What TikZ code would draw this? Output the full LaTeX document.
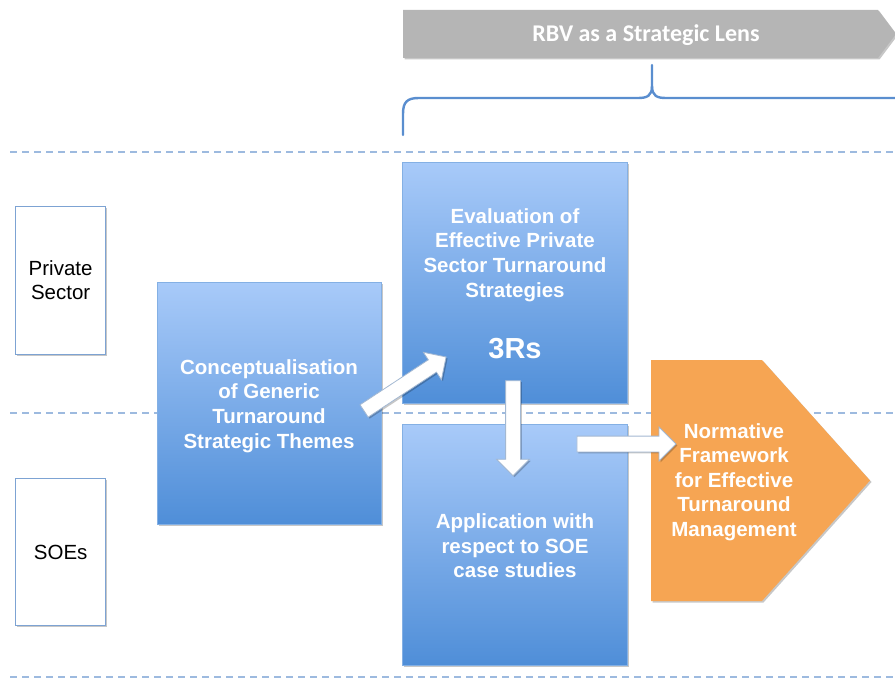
\documentclass[tikz,border=0pt]{standalone}
\usepackage{fontspec}
\setmainfont{Liberation Sans}
\newfontfamily\bannerfont{Carlito}
\usetikzlibrary{shadows,shapes.arrows,calc}

\definecolor{boxtop}{HTML}{A8CAF9}
\definecolor{boxbot}{HTML}{4F8ED8}
\definecolor{laneline}{HTML}{9DBADF}
\definecolor{bracecol}{HTML}{5A8ECF}
\definecolor{bannergray}{HTML}{B5B5B5}
\definecolor{orangefill}{HTML}{F6A553}
\definecolor{sidebox}{HTML}{7DA3D3}
\definecolor{arrowedge}{HTML}{A3B8D2}

\tikzset{
  softshadow/.style={drop shadow={shadow xshift=1.5pt, shadow yshift=-1.5pt, opacity=0.22, fill=black}},
  lane/.style={draw=laneline, line width=2pt, dash pattern=on 7pt off 5pt},
  sidelabel/.style={rectangle, anchor=north west, fill=white, draw=sidebox, line width=1.3pt,
    softshadow, text=black, font=\fontsize{20.5}{24}\selectfont, align=center, inner sep=0pt},
  stagebox/.style={rectangle, anchor=north west, top color=boxtop, bottom color=boxbot,
    draw=boxbot!70!white, line width=0.6pt, softshadow, inner sep=0pt},
  stagetext/.style={text=white, font=\bfseries\fontsize{20.5}{24.6}\selectfont, align=center, inner sep=0pt},
  flowarrow/.style={single arrow, fill=white, draw=arrowedge, line width=0.8pt,
    inner xsep=0pt, single arrow head extend=9pt, softshadow},
}

% block arrow drawn as a rotated single-arrow node between two coordinates
\newcommand\blockarrow[4]{%
  \path let \p1=($(#3)-(#2)$), \n1={atan2(\y1,\x1)}, \n2={veclen(\x1,\y1)} in
    node[flowarrow, rotate=\n1, minimum height=\n2, inner ysep=#4] (#1) at ($(#2)!0.5!(#3)$) {};}

\begin{document}
\begin{tikzpicture}[x=1pt, y=-1pt]
\useasboundingbox (0,0) rectangle (895,679);

% swim-lane separators
\draw[lane] (10,152) -- (895,152);
\draw[lane] (10,413) -- (895,413);
\draw[lane] (10,677) -- (895,677);

% banner
\fill[bannergray, softshadow] (403,10) -- (878,10) -- (896,34) -- (878,58) -- (403,58) -- cycle;
\node[text=white, font=\bannerfont\bfseries\fontsize{24}{28}\selectfont] (lens) at (646,35.5) {RBV as a Strategic Lens};

% brace under the banner
\draw[bracecol, line width=2.4pt, line cap=round]
  (403,135) -- (403,114) .. controls (403,102) and (407,98) .. (419,98)
  -- (638,98) .. controls (647,98) and (652,96) .. (652,86) -- (652,65);
\draw[bracecol, line width=2.4pt]
  (652,86) .. controls (652,96) and (657,98) .. (666,98) -- (900,98);

% lane labels
\node[sidelabel, minimum width=90pt, minimum height=148pt] (private) at (15,206) {Private\\Sector};
\node[sidelabel, minimum width=90pt, minimum height=147pt] (soes) at (15,478) {SOEs};

% stage boxes
\node[stagebox, minimum width=224pt, minimum height=242pt] (concept) at (157,282) {};
\node[stagebox, minimum width=225pt, minimum height=241pt] (eval) at (402,162) {};
\node[stagebox, minimum width=225pt, minimum height=241pt] (app) at (402,424) {};

\node[stagetext] (concepttext) at (269,406)
  {Conceptualisation\\of Generic\\Turnaround\\Strategic Themes};
\node[stagetext] (evaltext) at (515,255)
  {Evaluation of\\Effective Private\\Sector Turnaround\\Strategies};
\node[stagetext, font=\bfseries\fontsize{29}{30}\selectfont] (threers) at (515,349) {3Rs};
\node[stagetext] (apptext) at (515,546)
  {Application with\\respect to SOE\\case studies};

% outcome
\fill[orangefill, softshadow] (651,360) -- (762,360) -- (870,480.5) -- (762,601) -- (651,601) -- cycle;
\node[stagetext] (norm) at (734,482)
  {Normative\\Framework\\for Effective\\Turnaround\\Management};

% flow arrows
\coordinate (d1) at (361,413);
\coordinate (d2) at (443,359);
\coordinate (v1) at (513,377);
\coordinate (v2) at (513,472);
\coordinate (h1) at (573,444);
\coordinate (h2) at (672,444);
\blockarrow{toeval}{d1}{d2}{7pt}
\blockarrow{toapp}{v1}{v2}{7pt}
\blockarrow{tonorm}{h1}{h2}{7.5pt}
\end{tikzpicture}
\end{document}
